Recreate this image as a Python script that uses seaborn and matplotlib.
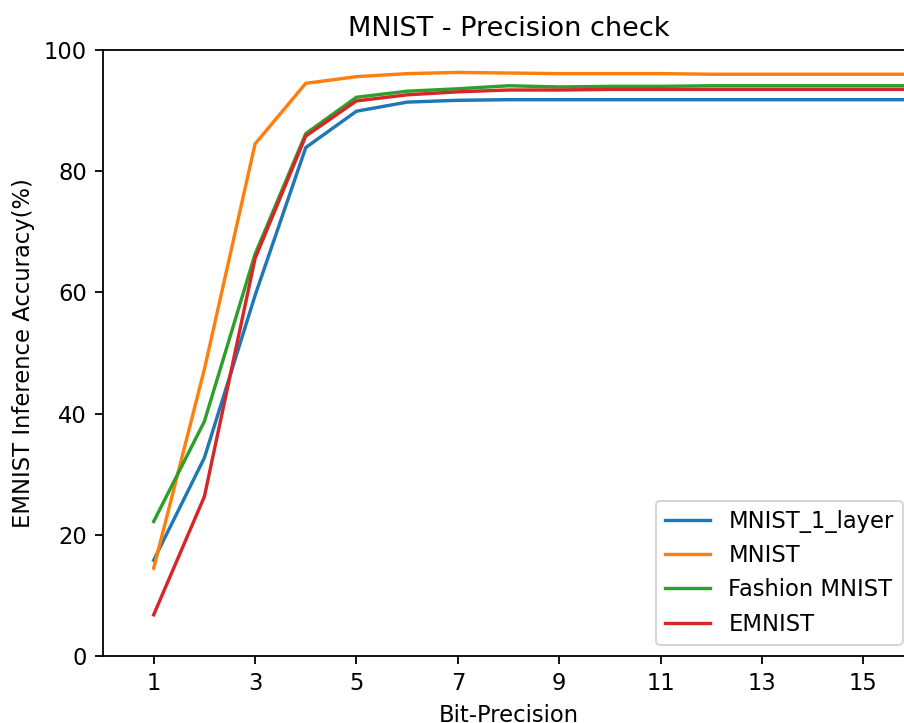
import numpy as np
import pandas as pd
import matplotlib
matplotlib.use("Agg")
import matplotlib.pyplot as plt
import seaborn as sns

bits = list(range(1, 17))
mnist_1_layer = [15.8, 32.7, 59.5, 83.9, 89.9, 91.4, 91.7, 91.8, 91.8, 91.8, 91.8, 91.8, 91.8, 91.8, 91.8, 91.8]
mnist = [14.5, 47.3, 84.5, 94.5, 95.6, 96.1, 96.3, 96.2, 96.1, 96.1, 96.1, 96.0, 96.0, 96.0, 96.0, 96.0]
fashion_mnist = [22.2, 38.7, 66.3, 86.2, 92.2, 93.2, 93.6, 94.1, 93.9, 94.0, 94.0, 94.1, 94.1, 94.1, 94.1, 94.1]
emnist = [6.8, 26.3, 65.6, 85.8, 91.6, 92.6, 93.1, 93.4, 93.4, 93.5, 93.5, 93.5, 93.5, 93.5, 93.5, 93.5]

series_names = ["MNIST_1_layer", "MNIST", "Fashion MNIST", "EMNIST"]
series_values = [mnist_1_layer, mnist, fashion_mnist, emnist]
xticks = [1, 3, 5, 7, 9, 11, 13, 15]

rows = []
for name, vals in zip(series_names, series_values):
    for b, v in zip(bits, vals):
        rows.append({"bits": b, "acc": v, "dataset": name})
df = pd.DataFrame(rows)

s = 1.13
plt.rcParams.update({
    "font.size": 10 * s,
    "axes.titlesize": 12 * s,
    "axes.linewidth": 0.8 * s,
    "xtick.major.size": 3.5 * s,
    "ytick.major.size": 3.5 * s,
    "xtick.major.width": 0.8 * s,
    "ytick.major.width": 0.8 * s,
    "xtick.major.pad": 3.5 * s,
    "ytick.major.pad": 3.5 * s,
    "axes.labelpad": 4.0 * s,
    "axes.titlepad": 6.0 * s,
    "legend.fontsize": 10 * s,
})

fig = plt.figure(figsize=(904 / 144, 723 / 144), dpi=144)
ax = fig.add_axes([103 / 904, 67 / 723, 811 / 904, 606 / 723])
sns.lineplot(data=df, x="bits", y="acc", hue="dataset", hue_order=series_names,
             palette=sns.color_palette("tab10", 4), linewidth=1.5 * s, ax=ax)
ax.set_xlim(0, 16)
ax.set_ylim(0, 100)
ax.set_xticks(xticks)
ax.set_xlabel("Bit-Precision")
ax.set_ylabel("EMNIST Inference Accuracy(%)")
ax.set_title("MNIST - Precision check")
sns.move_legend(ax, "lower right", title=None, frameon=True)
for line in ax.get_legend().get_lines():
    line.set_linewidth(1.5 * s)
fig.savefig("out.png", dpi=144)
